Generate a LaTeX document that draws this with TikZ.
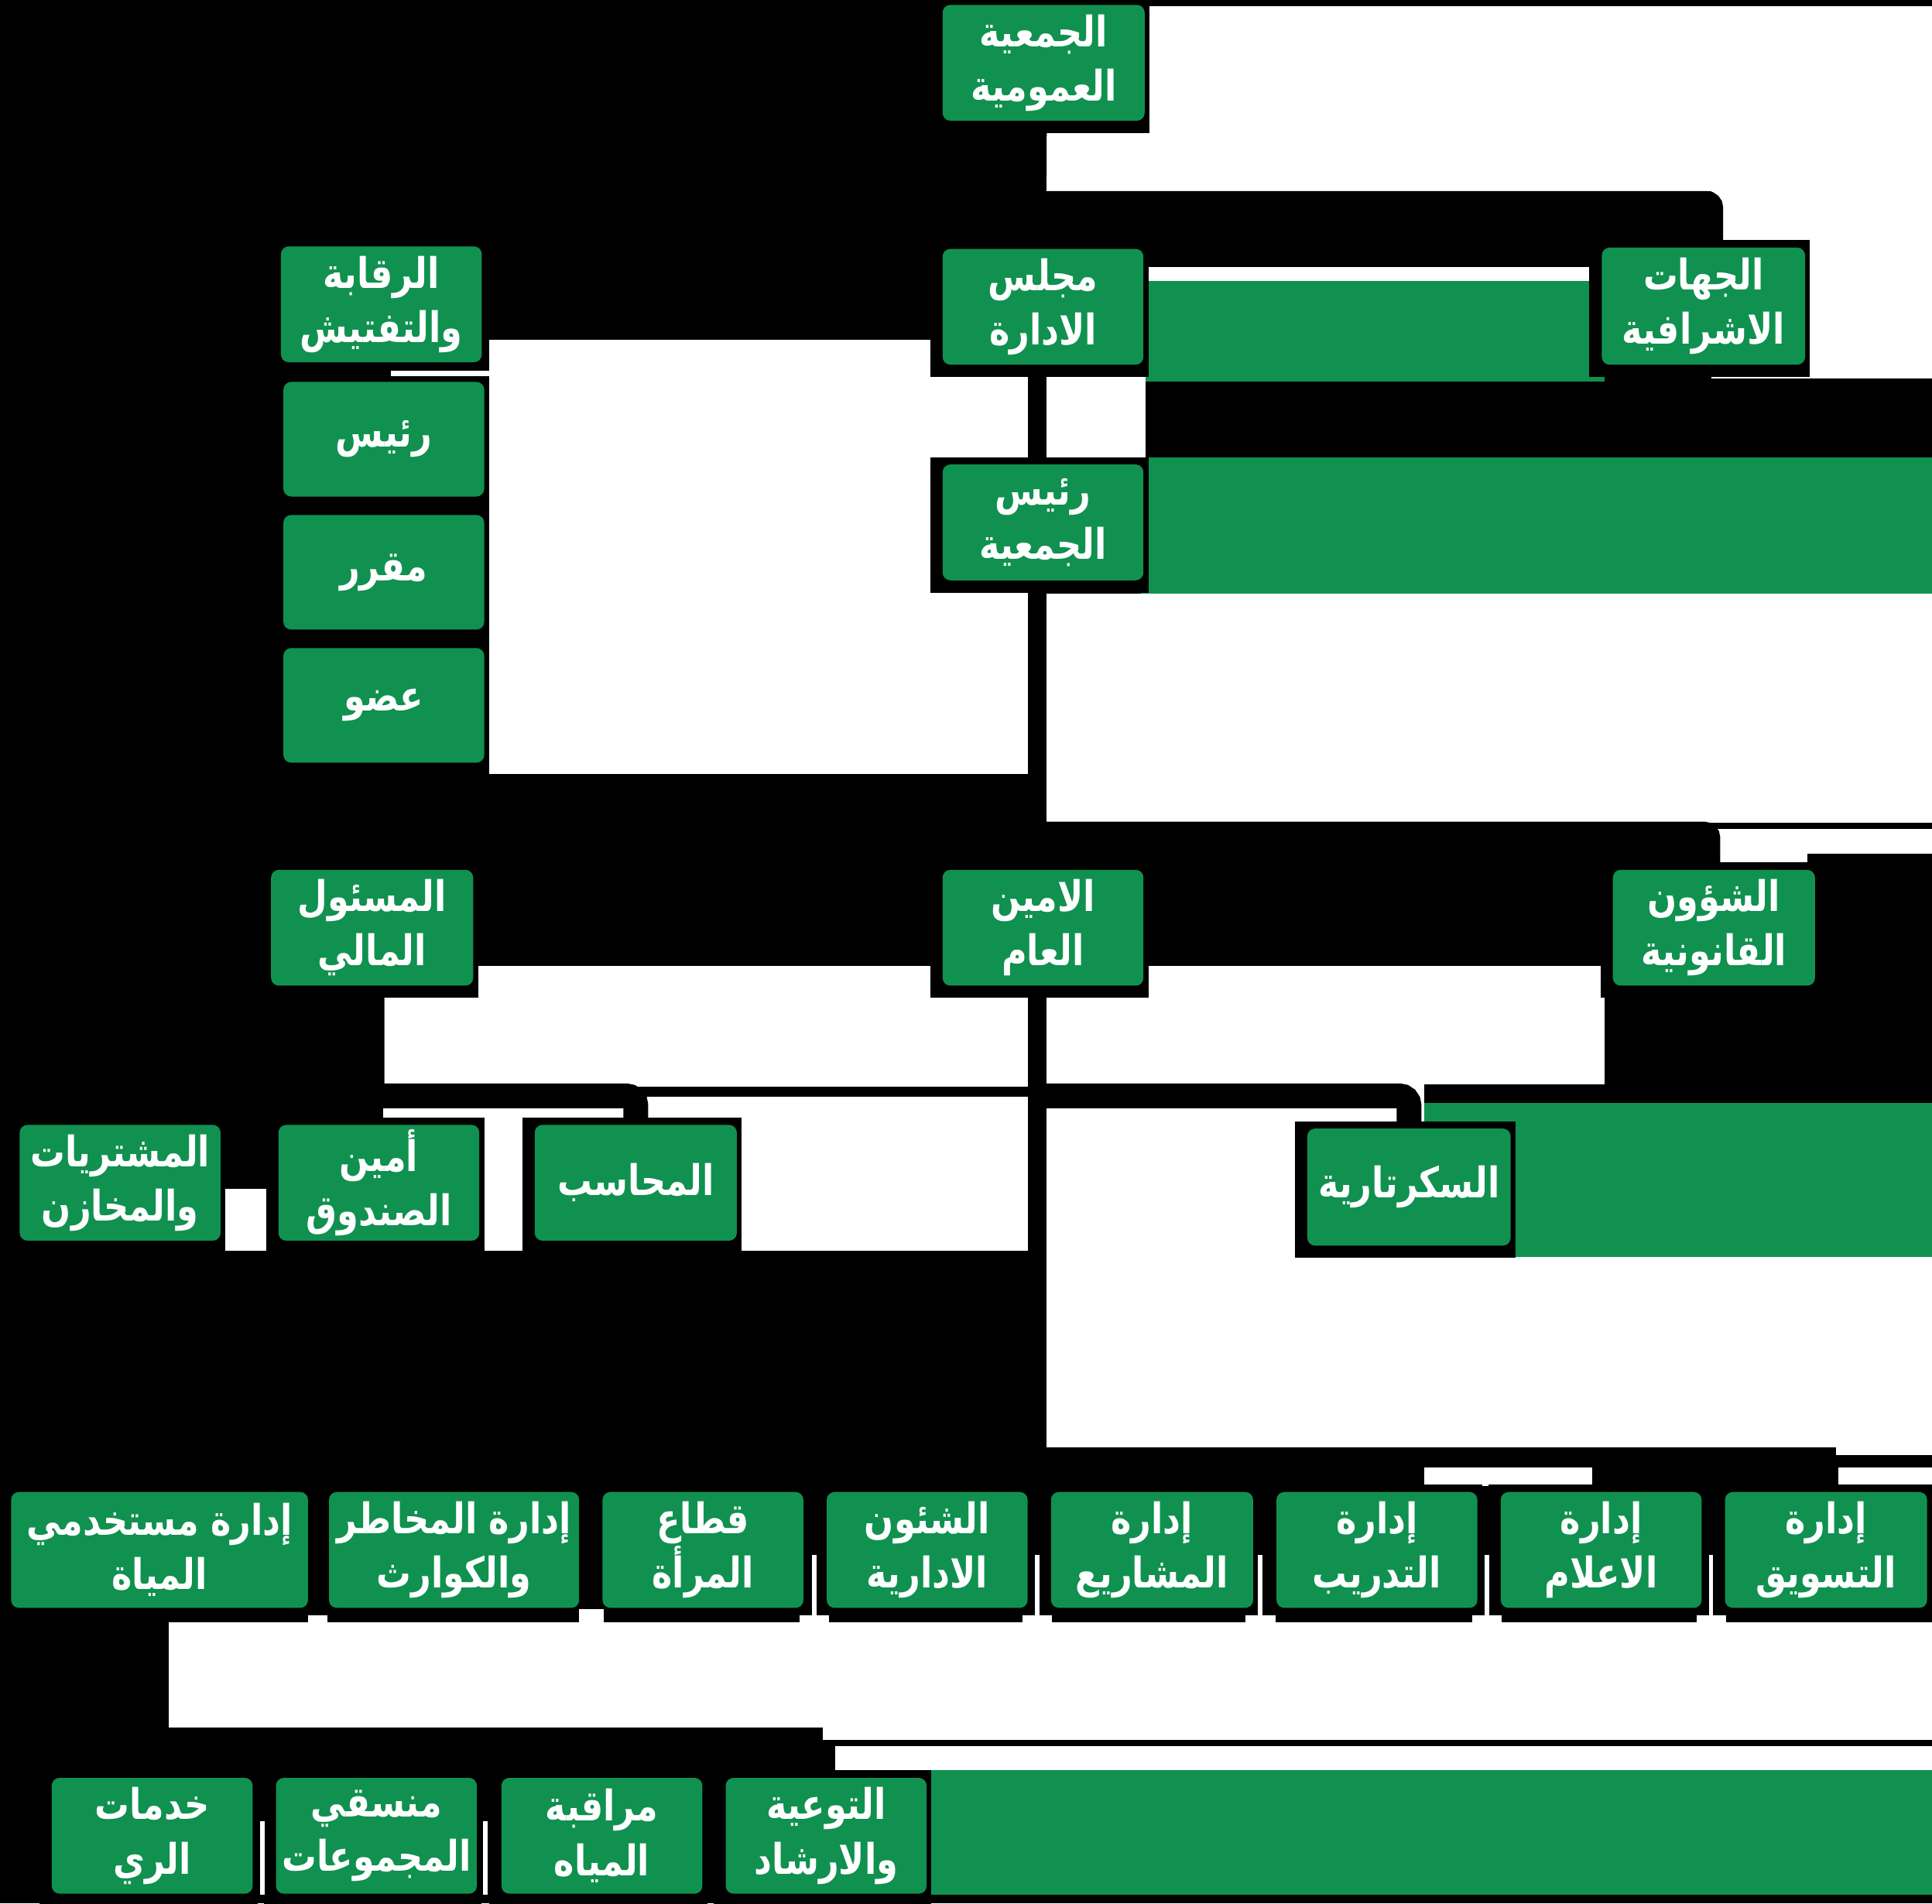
\documentclass[tikz,border=0pt]{standalone}
\usepackage{fontspec}
\usetikzlibrary{calc}
\TeXXeTstate=1
\newfontfamily\arabicfont[Script=Arabic, FakeStretch=0.82]{DejaVu Sans}
\definecolor{boxgreen}{RGB}{16,145,80}
\pgfdeclarelayer{regions}
\pgfdeclarelayer{links}
\pgfsetlayers{regions,links,main}

\newcommand{\ar}[1]{\beginR #1\endR}

\tikzset{
  orgbox/.style={fill=boxgreen, rounded corners=1mm, text=white, align=center,
    inner sep=0pt, font=\arabicfont\bfseries\fontsize{15.5}{20}\selectfont},
  link/.style={draw=black, line width=2.4mm, rounded corners=1.2mm},
  thinlink/.style={link, line width=1.6mm},
}

% box with its dark halo: name, x1, y1, x2, y2, text
\newcommand{\orgbox}[6]{%
  \begin{pgfonlayer}{links}
    \fill[black] ({#2-10},{#3-6}) rectangle ({#4+4},{#5+10});
  \end{pgfonlayer}
  \node[orgbox, minimum width={(#4-#2)*0.1592mm}, minimum height={(#5-#3)*0.1592mm}]
    (#1) at ({(#2+#4)/2},{(#3+#5)/2}) {#6};
}

\begin{document}
\begin{tikzpicture}[x=0.1592mm, y=-0.1592mm]
\useasboundingbox (0,0) rectangle (1568,1545);

\begin{pgfonlayer}{regions}
  \fill[black] (0,0) rectangle (1568,1545);
  % upper bands
  \fill[white] (849,5) rectangle (1568,155);
  \fill[white] (1389,155) rectangle (1568,307);
  \fill[white] (932,217) rectangle (1292,228);
  \fill[boxgreen] (926,228) rectangle (1302,310);
  \fill[white] (397,276) rectangle (834,628);
  \fill[white] (849,306) rectangle (930,371);
  \fill[boxgreen] (926,371) rectangle (1568,482);
  \fill[white] (849,482) rectangle (1568,668);
  \fill[white] (1392,673) rectangle (1568,693);
  \fill[white] (1392,693) rectangle (1467,703);
  % middle bands
  \fill[white] (386,784) rectangle (1302,880);
  \fill[white] (311,808) rectangle (386,880);
  \fill[white] (311,880) rectangle (834,1015);
  \fill[white] (181,965) rectangle (216,1015);
  \fill[white] (849,880) rectangle (1156,1020);
  \fill[boxgreen] (1156,895) rectangle (1568,1020);
  \fill[white] (849,1020) rectangle (1568,1175);
  \fill[white] (1490,1175) rectangle (1568,1181);
  \fill[white] (1156,1191) rectangle (1297,1206);
  \fill[white] (1492,1191) rectangle (1568,1206);
  % lower bands
  \fill[white] (136,1317) rectangle (1568,1402);
  \fill[white] (668,1402) rectangle (1568,1412);
  \fill[white] (678,1417) rectangle (1568,1437);
  \fill[boxgreen] (755,1437) rectangle (1568,1538);
\end{pgfonlayer}

% level 1 and 2
\orgbox{gen}{765}{4}{929}{98}{\ar{الجمعية}\\\ar{العمومية}}
\orgbox{board}{765}{202}{928}{296}{\ar{مجلس}\\\ar{الادارة}}
\orgbox{jihat}{1300}{201}{1465}{296}{\ar{الجهات}\\\ar{الاشرافية}}
\orgbox{raqaba}{228}{200}{391}{294}{\ar{الرقابة}\\\ar{والتفتيش}}
\orgbox{rais}{230}{310}{393}{403}{\ar{رئيس}}
\orgbox{muqarrir}{230}{418}{393}{511}{\ar{مقرر}}
\orgbox{udw}{230}{526}{393}{619}{\ar{عضو}}
\orgbox{pres}{765}{377}{928}{471}{\ar{رئيس}\\\ar{الجمعية}}
% level 3
\orgbox{fin}{220}{706}{384}{800}{\ar{المسئول}\\\ar{المالي}}
\orgbox{sg}{765}{706}{928}{800}{\ar{الامين}\\\ar{العام}}
\orgbox{legal}{1309}{706}{1473}{800}{\ar{الشؤون}\\\ar{القانونية}}
\orgbox{purch}{16}{913}{179}{1007}{\ar{المشتريات}\\\ar{والمخازن}}
\orgbox{treas}{226}{913}{389}{1007}{\ar{أمين}\\\ar{الصندوق}}
\orgbox{acct}{434}{913}{598}{1007}{\ar{المحاسب}}
\orgbox{sec}{1061}{916}{1226}{1011}{\ar{السكرتارية}}
% departments
\orgbox{r1}{9}{1211}{250}{1305}{\ar{إدارة مستخدمي}\\\ar{المياة}}
\orgbox{r2}{267}{1211}{470}{1305}{\ar{إدارة المخاطر}\\\ar{والكوارث}}
\orgbox{r3}{489}{1211}{652}{1305}{\ar{قطاع}\\\ar{المرأة}}
\orgbox{r4}{671}{1211}{834}{1305}{\ar{الشئون}\\\ar{الادارية}}
\orgbox{r5}{853}{1211}{1017}{1305}{\ar{إدارة}\\\ar{المشاريع}}
\orgbox{r6}{1036}{1211}{1199}{1305}{\ar{إدارة}\\\ar{التدريب}}
\orgbox{r7}{1218}{1211}{1381}{1305}{\ar{إدارة}\\\ar{الاعلام}}
\orgbox{r8}{1400}{1211}{1564}{1305}{\ar{إدارة}\\\ar{التسويق}}
% water users units
\orgbox{b1}{42}{1443}{205}{1537}{\ar{خدمات}\\\ar{الري}}
\orgbox{b2}{224}{1443}{387}{1537}{\ar{منسقي}\\\ar{المجموعات}}
\orgbox{b3}{407}{1443}{570}{1537}{\ar{مراقبة}\\\ar{المياه}}
\orgbox{b4}{589}{1443}{752}{1537}{\ar{التوعية}\\\ar{والارشاد}}

\begin{pgfonlayer}{links}
  % main trunk
  \draw[link] ($(gen.south)+(-5,0)$) -- ($(board.north)+(-5,0)$);
  \draw[link] ($(board.south)+(-5,0)$) -- ($(pres.north)+(-5,0)$);
  \draw[link] ($(pres.south)+(-5,0)$) -- ($(sg.north)+(-5,0)$);
  \coordinate (busY) at (841.5,1183);
  \draw[link] ($(sg.south)+(-5,0)$) -- (busY);
  % branches off the trunk
  \coordinate (jG) at (841.5,161);
  \draw[link, line width=1.9mm] (jG) -| ($(jihat.north)+(10,0)$);
  \coordinate (jL) at (841.5,672);
  \draw[link, line width=1.6mm] (jL) -| (legal.north);
  \coordinate (jS) at (841.5,889.5);
  \draw[link, line width=3.2mm] (jS) -| (sec.north);
  \coordinate (jA) at (841.5,886);
  \draw[link, line width=1.3mm] (jA) -- (acct.north |- jA);
  \draw[thinlink] (board.west) -- (board.west -| raqaba.east);
  \draw[thinlink] (sg.west) -- (fin.east);
  % supervisory committee
  \draw[thinlink] (raqaba.south) -- (raqaba.south |- rais.north);
  \draw[thinlink] (rais.south) -- (muqarrir.north);
  \draw[thinlink] (muqarrir.south) -- (udw.north);
  % finance
  \draw[link, line width=3.2mm] (fin.south) -- (fin.south |- jS) -| (acct.north);
  \draw[link, line width=2.5mm] (fin.south) -- (fin.south |- treas.north);
  \draw[thinlink] (treas.west) -- (purch.east);
  % departments bus
  \draw[link, line width=2.55mm] (r1.north) -- (r1.north |- busY) -- (r8.north |- busY) -- (r8.north);
  \foreach \r in {r2,r3,r4,r5,r6,r7} {
    \draw[link] (\r.north) -- (\r.north |- busY);
  }
  % water users units
  \coordinate (bus2) at (129.5,1425);
  \draw[link] (r1.south) -- (bus2);
  \draw[thinlink] (b1.north |- bus2) -- (b4.north |- bus2);
  \foreach \b in {b1,b2,b3,b4} {
    \draw[thinlink] (\b.north) -- (\b.north |- bus2);
  }
  % light slivers between the boxes
  \fill[white] (317,301) rectangle (397,305);
  \foreach \xc in {661,842,1023,1207,1389} {
    \fill[white] ({\xc-2},1262) rectangle ({\xc+1.5},1317);
    \fill[white] ({\xc-12},1311) rectangle ({\xc+12},1317);
  }
  \fill[white] (250,1311) rectangle (266,1317);
  \fill[white] (470,1306) rectangle (490,1317);
  \fill[white] (211,1478) rectangle (215,1538);
  \fill[white] (392,1478) rectangle (396,1538);
\end{pgfonlayer}
\end{tikzpicture}
\end{document}
